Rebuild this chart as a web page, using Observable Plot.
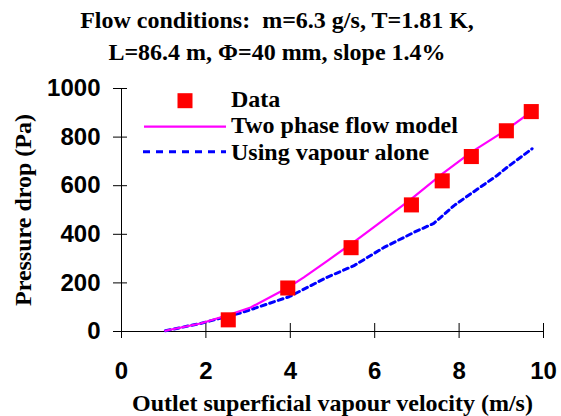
<!DOCTYPE html>
<html>
<head>
<meta charset="utf-8">
<script src="https://cdn.jsdelivr.net/npm/d3@7"></script>
<script src="https://cdn.jsdelivr.net/npm/@observablehq/plot@0.6"></script>
<style>
  html, body { margin: 0; padding: 0; background: #fff; }
  #wrap { position: relative; width: 561px; height: 416px; overflow: hidden; }
  #title { height: 68px; box-sizing: border-box; padding-top: 4px; padding-right: 7px;
    font: bold 24px "Liberation Serif", "Times New Roman", serif; line-height: 32px;
    text-align: center; color: #000; white-space: nowrap; }
  #legend { position: absolute; left: 0; top: 0; }
  g[aria-label="x-axis label"] text, g[aria-label="y-axis label"] text {
    font-family: "Liberation Serif", "Times New Roman", serif; font-size: 24px; }
</style>
</head>
<body>
<div id="wrap">
  <div id="title">Flow conditions:&nbsp; m=6.3 g/s, T=1.81 K,<br>L=86.4 m, &Phi;=40 mm, slope 1.4%</div>
  <div id="chart"></div>
</div>
<script>
// Measured data (red squares)
const dataVelocity = [2.53, 3.94, 5.44, 6.87, 7.60, 8.29, 9.12, 9.71];
const dataPressure = [48, 179, 345, 521, 620, 720, 826, 905];

// Two phase flow model (magenta line)
const modelVelocity = [1.04, 1.87, 2.53, 3.06, 3.94, 4.32, 4.87, 5.44, 6.06, 6.87, 7.60, 8.29, 9.12, 9.73];
const modelPressure = [3, 33, 68, 99, 180, 223, 290, 360, 440, 546, 649, 738, 830, 907];

// Using vapour alone (blue dashed line)
const vapourVelocity = [1.04, 1.87, 2.82, 3.97, 4.87, 5.51, 6.22, 6.93, 7.40, 7.88, 8.27, 8.90, 9.14, 9.73];
const vapourPressure = [3, 33, 76, 143, 223, 271, 346, 408, 445, 518, 566, 642, 676, 752];

const xTicks = [0, 2, 4, 6, 8, 10];
const yTicks = [0, 200, 400, 600, 800, 1000];

const seriesNames = ["Data", "Two phase flow model", "Using vapour alone"];
const titleX = "Outlet superficial vapour velocity (m/s)";
const titleY = "Pressure drop (Pa)";

const points = dataVelocity.map((v, i) => ({v, p: dataPressure[i]}));
const model = modelVelocity.map((v, i) => ({v, p: modelPressure[i]}));
const vapour = vapourVelocity.map((v, i) => ({v, p: vapourPressure[i]}));

const chart = Plot.plot({
  width: 561,
  height: 348,
  marginTop: 20,
  marginBottom: 85,
  marginLeft: 121,
  marginRight: 18,
  style: {fontFamily: "'Liberation Sans', Arial, sans-serif", fontWeight: "bold", fontSize: "24px", color: "#000", background: "transparent", overflow: "visible"},
  x: {domain: [0, 10]},
  y: {domain: [0, 1000]},
  marks: [
    // crossing tick marks (no labels)
    Plot.axisX({ticks: xTicks, tickSize: 15, dy: -8, tickFormat: () => "", label: null, stroke: "#000"}),
    Plot.axisY({ticks: yTicks, tickSize: 14, dx: 6, tickFormat: () => "", label: null, stroke: "#000"}),
    // labels
    Plot.axisX({ticks: xTicks, tickSize: 0, tickPadding: 30, tickFormat: d => String(d),
      label: titleX, labelAnchor: "center", labelArrow: "none", labelOffset: 79}),
    Plot.axisY({ticks: yTicks, tickSize: 0, tickPadding: 21, tickFormat: d => String(d),
      label: titleY, labelAnchor: "center", labelArrow: "none", labelOffset: 108}),
    Plot.ruleY([0], {stroke: "#000", strokeWidth: 1, insetLeft: -8}),
    Plot.ruleX([0], {stroke: "#000", strokeWidth: 1, insetBottom: -7}),
    Plot.line(vapour, {x: "v", y: "p", stroke: "#0000ff", strokeWidth: 3, strokeDasharray: "5,4"}),
    Plot.line(model, {x: "v", y: "p", stroke: "#ff00ff", strokeWidth: 2.2}),
    Plot.dot(points, {x: "v", y: "p", symbol: "square", r: 8.5, fill: "#ff0000", stroke: "none"})
  ]
});
document.getElementById("chart").appendChild(chart);

// Legend overlay (inside plot area, top-left)
const leg = d3.select("#wrap").append("svg").attr("id", "legend")
  .attr("width", 561).attr("height", 416);
const lg = leg.append("g")
  .attr("font-family", "'Liberation Serif', 'Times New Roman', serif")
  .attr("font-weight", "bold").attr("font-size", 24).attr("fill", "#000");
lg.append("rect").attr("x", 177.5).attr("y", 93.2).attr("width", 15).attr("height", 15).attr("fill", "#ff0000");
lg.append("line").attr("x1", 144).attr("x2", 226).attr("y1", 126.7).attr("y2", 126.7)
  .attr("stroke", "#ff00ff").attr("stroke-width", 2.2);
lg.append("line").attr("x1", 143).attr("x2", 226).attr("y1", 151.7).attr("y2", 151.7)
  .attr("stroke", "#0000ff").attr("stroke-width", 3).attr("stroke-dasharray", "7,6");
[107.3, 133.3, 160].forEach((y, i) => {
  lg.append("text").attr("x", 231).attr("y", y).text(seriesNames[i]);
});
</script>
</body>
</html>
